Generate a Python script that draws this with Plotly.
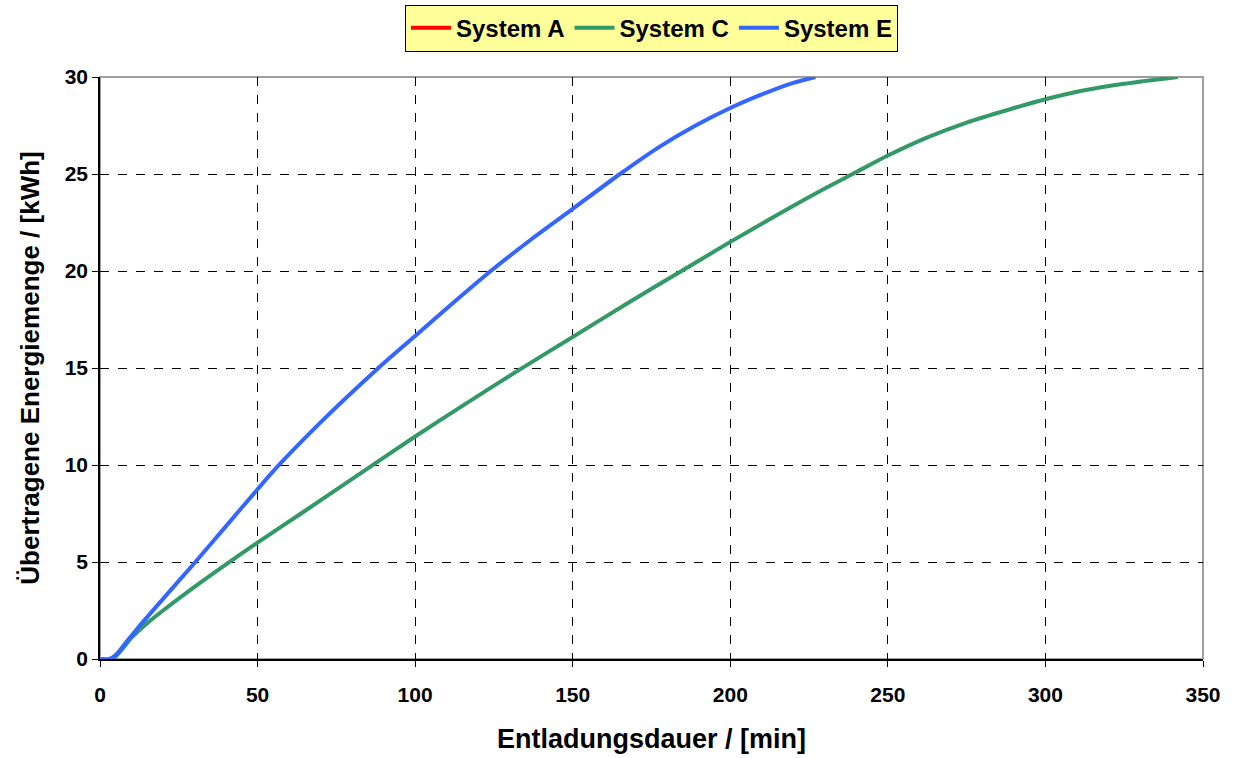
import plotly.graph_objects as go

# Entladungsdauer [min] und übertragene Energiemenge [kWh]
system_a_min = [None]
system_a_kwh = [None]

system_c_min = [0, 4, 7, 10, 15, 20, 30, 40, 50, 65, 85, 100, 115, 132, 150, 167, 184,
                200, 215, 230, 240, 250, 262, 275, 288, 300, 312, 325, 342]
system_c_kwh = [0, 0, 0.5, 1.1, 1.85, 2.5, 3.72, 4.88, 6.0, 7.63, 9.83, 11.47, 13.05,
                14.8, 16.6, 18.3, 19.95, 21.5, 22.9, 24.25, 25.1, 25.95, 26.85, 27.65,
                28.3, 28.85, 29.3, 29.65, 30.0]

system_e_min = [0, 3, 5, 8, 12, 20, 30, 40, 50, 56.5, 70, 88, 100, 112, 124, 137, 150,
                165, 177, 189, 200, 210, 219, 227]
system_e_kwh = [0, 0, 0.2, 0.8, 1.6, 3.1, 4.95, 6.85, 8.75, 9.95, 12.2, 14.95, 16.65,
                18.35, 20.0, 21.65, 23.2, 25.0, 26.35, 27.5, 28.4, 29.1, 29.65, 30.0]

x_ticks = [0, 50, 100, 150, 200, 250, 300, 350]
y_ticks = [0, 5, 10, 15, 20, 25, 30]

FONT = "Liberation Sans, Arial, sans-serif"

fig = go.Figure()
fig.add_trace(go.Scatter(x=system_a_min, y=system_a_kwh, name="System A", mode="lines",
                         line=dict(color="#FF0000", width=4)))
fig.add_trace(go.Scatter(x=system_c_min, y=system_c_kwh, name="System C", mode="lines",
                         line=dict(color="#339966", width=4, shape="spline", smoothing=0.8)))
fig.add_trace(go.Scatter(x=system_e_min, y=system_e_kwh, name="System E", mode="lines",
                         line=dict(color="#3366FF", width=4, shape="spline", smoothing=0.8)))

# grey frame on top/right of the plotting area
fig.add_shape(type="rect", xref="paper", yref="paper", x0=0, y0=0, x1=1, y1=1,
              line=dict(color="#808080", width=1.5), layer="below")

fig.update_layout(
    width=1235, height=758,
    margin=dict(l=100, r=32, t=77, b=99, autoexpand=False),
    paper_bgcolor="white", plot_bgcolor="white",
    font=dict(family=FONT, color="black"),
    showlegend=True,
    legend=dict(
        orientation="h", x=0.5, xanchor="center", y=0.994, yref="container", yanchor="top",
        bgcolor="#FFFF99", bordercolor="black", borderwidth=1,
        font=dict(family=FONT, size=24, color="black", weight="bold"),
        itemwidth=40, tracegroupgap=0,
    ),
    xaxis=dict(
        range=[0, 350], tickvals=x_ticks, ticktext=[str(v) for v in x_ticks],
        showline=True, linecolor="black", linewidth=1.5, automargin=False,
        ticks="outside", ticklen=6, tickcolor="black", ticklabelstandoff=10,
        showgrid=True, gridcolor="black", griddash="dash", gridwidth=1,
        zeroline=False,
        tickfont=dict(family=FONT, size=21, color="black", weight="bold"),
        title=dict(text="Entladungsdauer / [min]", standoff=24,
                   font=dict(family=FONT, size=27, color="black", weight="bold")),
    ),
    yaxis=dict(
        range=[0, 30], tickvals=y_ticks, ticktext=[str(v) for v in y_ticks],
        showline=True, linecolor="black", linewidth=1.5, automargin=False,
        ticks="outside", ticklen=6, tickcolor="black",
        showgrid=True, gridcolor="black", griddash="dash", gridwidth=1,
        zeroline=False,
        tickfont=dict(family=FONT, size=21, color="black", weight="bold"),
        title=dict(text="Übertragene Energiemenge / [kWh]", standoff=18,
                   font=dict(family=FONT, size=26, color="black", weight="bold")),
    ),
)

fig.write_html("out.html")
